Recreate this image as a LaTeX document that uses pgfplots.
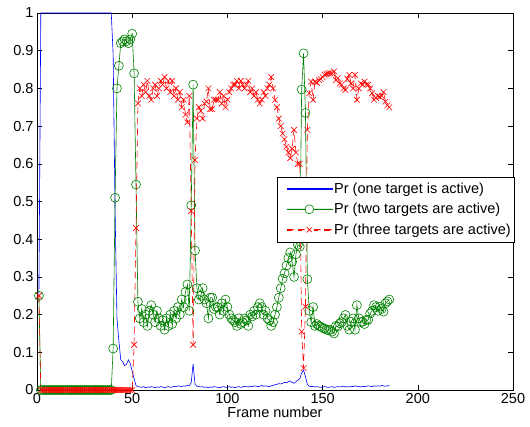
\documentclass[border=0pt]{standalone}
\usepackage{fontspec}
\setmainfont{Liberation Sans}
\usepackage{pgfplots}
\usepackage{pgfplotstable}
\pgfplotsset{compat=1.18}
\definecolor{mblue}{rgb}{0,0,1}
\definecolor{mgreen}{rgb}{0,0.5,0}
\definecolor{mred}{rgb}{1,0,0}

\pgfplotstableread{
f b g r
1 0.25 0.25 0.25
2 1 0 0
3 1 0 0
4 1 0 0
5 1 0 0
6 1 0 0
7 1 0 0
8 1 0 0
9 1 0 0
10 1 0 0
11 1 0 0
12 1 0 0
13 1 0 0
14 1 0 0
15 1 0 0
16 1 0 0
17 1 0 0
18 1 0 0
19 1 0 0
20 1 0 0
21 1 0 0
22 1 0 0
23 1 0 0
24 1 0 0
25 1 0 0
26 1 0 0
27 1 0 0
28 1 0 0
29 1 0 0
30 1 0 0
31 1 0 0
32 1 0 0
33 1 0 0
34 1 0 0
35 1 0 0
36 1 0 0
37 1 0 0
38 1 0 0
39 1 0 0
40 0.89 0.11 0
41 0.48 0.51 0
42 0.19 0.80 0
43 0.13 0.86 0
44 0.08 0.92 0
45 0.075 0.925 0
46 0.065 0.93 0
47 0.068 0.925 0
48 0.08 0.92 0
49 0.07 0.93 0
50 0.05 0.945 0
51 0.03 0.84 0.12
52 0.012 0.545 0.43
53 0.009 0.234 0.76
54 0.008 0.19 0.80
55 0.007 0.215 0.78
56 0.009 0.18 0.81
57 0.006 0.20 0.79
58 0.008 0.17 0.82
59 0.007 0.21 0.78
60 0.009 0.225 0.77
61 0.008 0.20 0.80
62 0.006 0.18 0.81
63 0.008 0.21 0.78
64 0.007 0.19 0.80
65 0.009 0.17 0.82
66 0.008 0.185 0.81
67 0.006 0.16 0.83
68 0.008 0.19 0.80
69 0.009 0.17 0.82
70 0.007 0.20 0.79
71 0.008 0.175 0.82
72 0.010 0.21 0.78
73 0.009 0.19 0.80
74 0.011 0.22 0.77
75 0.010 0.20 0.79
76 0.009 0.24 0.75
77 0.011 0.22 0.77
78 0.010 0.26 0.73
79 0.012 0.28 0.71
80 0.011 0.21 0.78
81 0.02 0.49 0.475
82 0.069 0.81 0.12
83 0.015 0.37 0.61
84 0.010 0.27 0.72
85 0.009 0.24 0.75
86 0.008 0.25 0.74
87 0.009 0.27 0.72
88 0.007 0.24 0.76
89 0.008 0.23 0.765
90 0.006 0.19 0.80
91 0.008 0.245 0.745
92 0.007 0.245 0.745
93 0.009 0.215 0.77
94 0.008 0.22 0.77
95 0.007 0.22 0.77
96 0.006 0.20 0.79
97 0.008 0.23 0.76
98 0.009 0.21 0.78
99 0.007 0.24 0.75
100 0.008 0.22 0.77
101 0.009 0.20 0.79
102 0.007 0.19 0.80
103 0.008 0.185 0.81
104 0.006 0.18 0.81
105 0.008 0.17 0.82
106 0.009 0.19 0.80
107 0.007 0.175 0.82
108 0.008 0.18 0.81
109 0.010 0.19 0.80
110 0.009 0.185 0.81
111 0.008 0.17 0.82
112 0.010 0.20 0.79
113 0.009 0.195 0.80
114 0.011 0.21 0.78
115 0.010 0.20 0.79
116 0.009 0.22 0.77
117 0.010 0.23 0.76
118 0.012 0.22 0.77
119 0.010 0.20 0.79
120 0.011 0.21 0.78
121 0.010 0.19 0.80
122 0.009 0.185 0.81
123 0.011 0.17 0.83
124 0.012 0.18 0.80
125 0.014 0.20 0.77
126 0.015 0.22 0.75
127 0.017 0.245 0.72
128 0.016 0.27 0.70
129 0.018 0.295 0.68
130 0.020 0.31 0.665
131 0.019 0.33 0.645
132 0.022 0.35 0.63
133 0.024 0.365 0.615
134 0.020 0.34 0.64
135 0.018 0.30 0.69
136 0.022 0.36 0.63
137 0.026 0.385 0.60
138 0.030 0.38 0.60
139 0.045 0.797 0.155
140 0.053 0.893 0.058
141 0.035 0.735 0.221
142 0.015 0.294 0.69
143 0.010 0.21 0.787
144 0.009 0.18 0.818
145 0.010 0.22 0.77
146 0.008 0.17 0.818
147 0.009 0.175 0.815
148 0.008 0.17 0.822
149 0.007 0.168 0.825
150 0.008 0.165 0.83
151 0.009 0.163 0.836
152 0.008 0.16 0.838
153 0.007 0.158 0.84
154 0.008 0.16 0.84
155 0.009 0.155 0.84
156 0.007 0.15 0.845
157 0.008 0.17 0.822
158 0.009 0.168 0.827
159 0.008 0.177 0.813
160 0.009 0.18 0.81
161 0.010 0.19 0.80
162 0.008 0.199 0.796
163 0.009 0.17 0.825
164 0.008 0.16 0.836
165 0.010 0.181 0.813
166 0.009 0.19 0.80
167 0.011 0.16 0.836
168 0.010 0.225 0.77
169 0.009 0.19 0.80
170 0.008 0.18 0.813
171 0.010 0.181 0.81
172 0.009 0.175 0.818
173 0.010 0.186 0.81
174 0.011 0.186 0.81
175 0.010 0.203 0.80
176 0.009 0.21 0.787
177 0.011 0.225 0.77
178 0.010 0.22 0.775
179 0.011 0.21 0.78
180 0.010 0.221 0.778
181 0.012 0.215 0.78
182 0.011 0.208 0.79
183 0.010 0.23 0.765
184 0.011 0.235 0.755
185 0.012 0.24 0.75
}\data

\begin{document}
\begin{tikzpicture}
\useasboundingbox (-37bp,-37bp) rectangle (493bp,390bp);
\begin{axis}[
  at={(0,0)}, anchor=south west,
  scale only axis, width=476bp, height=377bp,
  xmin=0, xmax=250, ymin=0, ymax=1,
  xtick={0,50,100,150,200,250},
  ytick={0,0.1,0.2,0.3,0.4,0.5,0.6,0.7,0.8,0.9,1},
  yticklabels={0,0.1,0.2,0.3,0.4,0.5,0.6,0.7,0.8,0.9,1},
  tick align=inside, major tick length=5bp,
  tick style={black, line width=0.5bp},
  axis line style={black, line width=0.8bp},
  /pgf/number format/assume math mode=true,
  ticklabel style={font=\fontsize{14.5bp}{17bp}\selectfont},
  xlabel={Frame number},
  xlabel style={font=\fontsize{14.5bp}{17bp}\selectfont, yshift=4bp},
  clip=true,
  legend cell align=left,
  legend style={at={(axis description cs:0.505,0.566)}, anchor=north west,
    font=\fontsize{14.5bp}{17bp}\selectfont,
    inner xsep=2bp, inner ysep=4bp, row sep=4.5bp},
]
\addplot[color=mblue, line width=0.6bp,
  legend image code/.code={\path (0bp,0bp); \fill[mblue] (7bp,-0.3bp) rectangle (52bp,0.3bp);}]
  table[x=f,y=b]{\data};
\addlegendentry{Pr (one target is active)}
\addplot[color=mgreen, line width=0.6bp, mark=o, mark size=4.5bp, mark options={solid, draw=mgreen, line width=0.6bp},
  legend image code/.code={\path (0bp,0bp); \fill[mgreen] (7bp,-0.3bp) rectangle (25bp,0.3bp) (34bp,-0.3bp) rectangle (52bp,0.3bp); \draw[draw=mgreen, line width=0.6bp] (29.5bp,0bp) circle[radius=4.5bp];}]
  table[x=f,y=g]{\data};
\addlegendentry{Pr (two targets are active)}
\addplot[color=mred, line width=0.6bp, dash pattern=on 7bp off 4bp, mark=x, mark size=4bp, mark options={solid, draw=mred, line width=0.6bp},
  legend image code/.code={\path (0bp,0bp); \fill[mred] (7bp,-0.3bp) rectangle (14.5bp,0.3bp) (18bp,-0.3bp) rectangle (25bp,0.3bp) (34bp,-0.3bp) rectangle (41bp,0.3bp) (44.5bp,-0.3bp) rectangle (52bp,0.3bp); \draw[draw=mred, line width=0.6bp] (26.8bp,-2.7bp) -- (32.2bp,2.7bp) (26.8bp,2.7bp) -- (32.2bp,-2.7bp);}]
  table[x=f,y=r]{\data};
\addlegendentry{Pr (three targets are active)}
\end{axis}
\end{tikzpicture}
\end{document}
